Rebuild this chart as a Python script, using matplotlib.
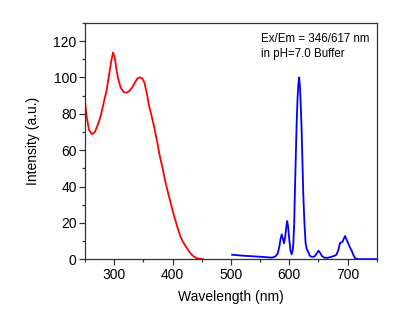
import matplotlib
matplotlib.use("Agg")
import matplotlib.pyplot as plt
from matplotlib.ticker import MultipleLocator

plt.rcParams['font.family'] = ['Liberation Sans', 'DejaVu Sans']

ex_wl = [250, 253, 257, 262, 267, 272, 277, 282, 287, 291, 295, 298, 301, 304, 307,
         311, 316, 321, 326, 331, 336, 340, 344, 348, 352, 356, 360, 364, 369, 374,
         378, 383, 387, 392, 397, 402, 408, 413, 418, 423, 428, 433, 437, 442, 447, 452]
ex_int = [86.8, 78, 71, 68.8, 70, 74, 79, 86, 93, 101, 109, 113.7, 111, 104, 99,
          94.5, 92, 91.5, 92.5, 94.5, 97.5, 99.5, 100, 99.5, 97, 91, 84, 79, 72, 64,
          57, 50, 43.6, 37, 30.8, 24.5, 18, 13, 9.5, 6.9, 4.5, 2.5, 1.4, 0.6, 0.2, 0.1]

em_wl = [502, 520, 540, 560, 570, 576, 580, 583, 585, 587, 589, 591, 593, 595, 596.5,
         598, 600, 602, 604, 606, 607, 608.5, 609.6, 611, 612.5, 614, 615.5, 617, 618.5,
         620, 621, 622.5, 624, 626, 628, 630, 632.6, 635, 638, 643, 647, 650, 653, 656,
         660, 665, 672, 678, 681, 684, 687, 691, 693, 695.5, 698, 701, 704, 707, 710,
         713, 718, 730, 750]
em_int = [2.5, 2.0, 1.6, 1.2, 0.9, 1.5, 3.0, 7, 11, 13.7, 11.5, 8.8, 12, 18, 21,
          18, 11, 5, 2.7, 5, 8.8, 20, 36.4, 54, 73, 87, 96, 100, 94,
          82, 73, 55, 36, 20, 8.8, 5.5, 4, 2, 1.4, 1.4, 3.2, 4.7, 3.5, 1.8,
          0.9, 0.8, 1.3, 2, 2.6, 5, 9, 9.5, 11, 12.8, 11, 8.8, 6.5, 4.7, 2.3,
          0.5, 0.1, 0.1, 0.1]

x_ticks = [300, 400, 500, 600, 700]
y_ticks = [0, 20, 40, 60, 80, 100, 120]

fig = plt.figure(figsize=(4.0, 3.26), dpi=100)
ax = fig.add_axes([0.2125, 0.2046, 0.7295, 0.7254])
ax.plot(ex_wl, ex_int, color='#ff0000', lw=1.3)
ax.plot(em_wl, em_int, color='#0000ff', lw=1.3)

ax.set_xlim(250, 750)
ax.set_ylim(0, 130)
ax.set_xticks(x_ticks)
ax.set_yticks(y_ticks)
ax.xaxis.set_minor_locator(MultipleLocator(50))
ax.yaxis.set_minor_locator(MultipleLocator(10))
ax.tick_params(which='major', direction='out', length=4, width=0.9, labelsize=10,
               color='#333333', pad=2)
ax.tick_params(which='minor', direction='out', length=2.5, width=0.9, color='#333333')
ax.tick_params(top=False, right=False)
for s in ax.spines.values():
    s.set_linewidth(0.9)
    s.set_color('#333333')

ax.set_xlabel('Wavelength (nm)', fontsize=10, labelpad=6)
ax.set_ylabel('Intensity (a.u.)', fontsize=10, labelpad=10)

ax.text(0.602, 0.955, 'Ex/Em = 346/617 nm\nin pH=7.0 Buffer', transform=ax.transAxes,
        fontsize=8.3, va='top', ha='left', linespacing=1.25)

fig.savefig('out.png', dpi=100)
